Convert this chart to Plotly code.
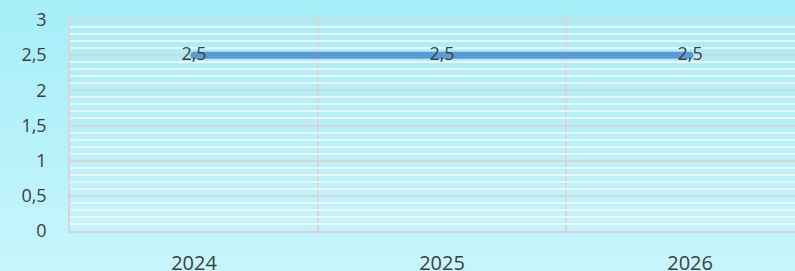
import plotly.graph_objects as go
import zlib, struct, base64

categories = ["2024", "2025", "2026"]
values = [2.5, 2.5, 2.5]
y_ticks = [0, 0.5, 1, 1.5, 2, 2.5, 3]
y_tick_labels = ["0", "0,5", "1", "1,5", "2", "2,5", "3"]

xpos = list(range(len(categories)))
labels = [str(v).replace(".", ",") for v in values]

# vertical background gradient as a small PNG
def gradient_png(top, bottom, h=64):
    raw = b""
    for i in range(h):
        t = i / (h - 1)
        c = bytes(int(round(top[k] + (bottom[k] - top[k]) * t)) for k in range(3))
        raw += b"\x00" + c
    def chunk(tag, data):
        return struct.pack(">I", len(data)) + tag + data + struct.pack(">I", zlib.crc32(tag + data) & 0xffffffff)
    png = b"\x89PNG\r\n\x1a\n" + chunk(b"IHDR", struct.pack(">IIBBBBB", 1, h, 8, 2, 0, 0, 0))
    png += chunk(b"IDAT", zlib.compress(raw)) + chunk(b"IEND", b"")
    return "data:image/png;base64," + base64.b64encode(png).decode()

W, H = 795, 271
ml, mr, mt, mb = 70, 0, 20, 40
pw, ph = W - ml - mr, H - mt - mb
grid_major = "#d6d6d6"

fig = go.Figure()
fig.add_trace(go.Scatter(
    x=xpos, y=values, mode="lines+markers+text",
    line=dict(color="#5b9bd5", width=7),
    marker=dict(color="#5b9bd5", size=7, line=dict(width=0)),
    text=labels, textposition="middle center",
    textfont=dict(family="Open Sans", size=18, color="#404040"),
    cliponaxis=False, hoverinfo="skip", showlegend=False,
))

fig.add_layout_image(dict(
    source=gradient_png((166, 238, 248), (200, 245, 252)),
    xref="paper", yref="paper", x=-ml / pw, y=1 + mt / ph,
    sizex=W / pw, sizey=H / ph, sizing="stretch",
    xanchor="left", yanchor="top", layer="below",
))

fig.update_layout(
    width=W, height=H,
    margin=dict(l=ml, r=mr, t=mt, b=mb, autoexpand=False),
    paper_bgcolor="#b4f0fa", plot_bgcolor="rgba(0,0,0,0)",
    separators=", ",
    xaxis=dict(
        range=[-0.5, 2.423], tickvals=xpos, ticktext=categories,
        showgrid=False, zeroline=False, ticks="",
        showline=True, mirror=True, linecolor=grid_major, linewidth=1.5,
        ticklabelstandoff=13,
        tickfont=dict(family="Open Sans", size=20, color="#404040"),
        minor=dict(tick0=-0.5, dtick=1, showgrid=True, gridcolor=grid_major, gridwidth=1.5),
    ),
    yaxis=dict(
        range=[0, 3], tickvals=y_ticks, ticktext=y_tick_labels,
        showgrid=True, gridcolor=grid_major, gridwidth=1.5,
        zeroline=False, ticks="",
        showline=True, linecolor=grid_major, linewidth=1.5,
        ticklabelstandoff=18,
        tickfont=dict(family="Open Sans", size=18, color="#404040"),
        minor=dict(dtick=0.1, showgrid=True, gridcolor="#f2f2f2", gridwidth=1.5),
    ),
)

fig.write_html("out.html", config={"displayModeBar": False},
               post_script="document.body.style.margin='0';")
